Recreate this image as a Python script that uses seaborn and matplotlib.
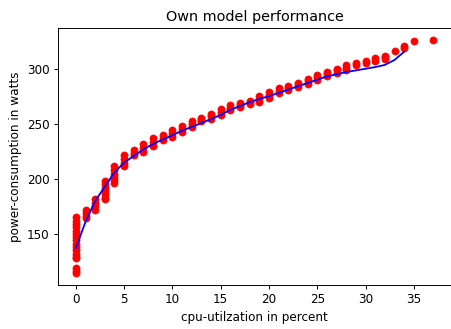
import matplotlib
matplotlib.use("Agg")
import matplotlib.pyplot as plt
import seaborn as sns
import pandas as pd

# CPU utilization levels (percent) and the observed power readings (watts) at each level
cpu_levels = [0, 1, 2, 3, 4, 5, 6, 7, 8, 9, 10, 11, 12, 13, 14, 15, 16, 17, 18,
              19, 20, 21, 22, 23, 24, 25, 26, 27, 28, 29, 30, 31, 32, 33, 34, 35, 37]
power_readings = [
    [165, 162, 159, 156, 153, 150, 147, 144, 141, 138, 135, 132, 129, 128, 119, 116.5, 114],
    [172, 169, 166, 164.5],
    [181.5, 178, 175, 172],
    [198, 195, 192, 189, 186, 183, 181.5],
    [211.5, 208, 205, 202, 199, 196],
    [221.5, 218, 215, 211.5],
    [226, 224, 222],
    [231.5, 228.5, 225],
    [237, 233.5, 230],
    [240, 237.5, 235.5],
    [244.5, 241.5, 238.5],
    [248.5, 246, 243],
    [253, 250, 247.5],
    [256, 254, 252.5],
    [259.5, 257, 254.5],
    [264, 261, 258.5],
    [267, 265, 263],
    [269.5, 267.5, 266],
    [271.5, 270, 268],
    [275.5, 273, 270.5],
    [279.5, 276.5, 273.5],
    [282.5, 280, 278],
    [284.5, 283, 281],
    [287.5, 285.5, 283.5],
    [291.5, 289, 287],
    [295, 293, 290.5],
    [297.5, 295.5, 294],
    [300.5, 299, 297],
    [303.5, 301.5, 299.5],
    [305.5, 304],
    [307.5, 305.5],
    [310, 308],
    [312.5, 311, 309.5],
    [317],
    [321.5, 319.5],
    [326],
    [327],
]

# Model prediction curve
fit_cpu = [0, 1, 2, 3, 4, 5, 6, 7, 8, 9, 10, 11, 12, 13, 14, 15, 16, 17, 18,
           19, 20, 21, 22, 23, 24, 25, 26, 27, 28, 29, 30, 31, 32, 33, 34]
fit_power = [137, 161, 180, 193, 206, 215, 221, 227, 232, 236, 240, 244, 247.5,
             251, 254.5, 258.5, 263, 266.5, 270, 273, 275.5, 278.5, 281.5, 284.5,
             287.5, 290.5, 293.5, 295.5, 297.5, 299, 300.5, 302, 304, 308.5, 316]

rows = [(c, p) for c, vals in zip(cpu_levels, power_readings) for p in vals]
obs = pd.DataFrame(rows, columns=["cpu", "power"])
fit = pd.DataFrame({"cpu": fit_cpu, "power": fit_power})

dpi = 86
fig = plt.figure(figsize=(452 / dpi, 329 / dpi), dpi=dpi)
ax = fig.add_axes([58 / 452, 1 - 285 / 329, (451 - 58) / 452, (285 - 28) / 329])

sns.scatterplot(data=obs, x="cpu", y="power", color="red", s=36,
                edgecolor="red", linewidth=0.5, ax=ax, zorder=2)
sns.lineplot(data=fit, x="cpu", y="power", color="blue", linewidth=1.5,
             ax=ax, zorder=3)

ax.set_title("Own model performance", fontsize=12)
ax.set_xlabel("cpu-utilzation in percent", fontsize=10)
ax.set_ylabel("power-consumption in watts", fontsize=10)
ax.tick_params(labelsize=10)
ax.set_xticks([0, 5, 10, 15, 20, 25, 30, 35])
ax.set_yticks([150, 200, 250, 300])

fig.savefig("out.png", dpi=dpi)
